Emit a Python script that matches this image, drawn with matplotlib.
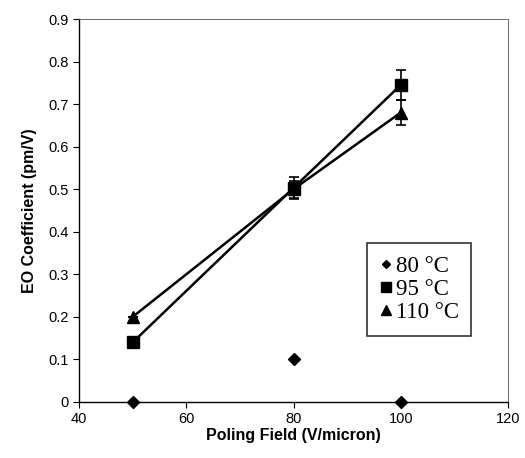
import matplotlib.pyplot as plt
import numpy as np
from matplotlib.lines import Line2D

field = [50, 80, 100]
eo_80 = [0.0, 0.10, 0.0]
eo_95 = [0.14, 0.503, 0.745]
eo_110 = [0.20, 0.50, 0.68]
err_95 = [0.0, 0.025, 0.035]
err_110 = [0.0, 0.02, 0.03]
labels = ['80 °C', '95 °C', '110 °C']

fig = plt.figure(figsize=(5.25, 4.58), dpi=100)
ax = fig.add_axes([0.1505, 0.1223, 0.8171, 0.8362])

ax.plot(field, eo_80, 'kD', ms=6, ls='none', clip_on=False, zorder=5)
ax.errorbar(field, eo_95, yerr=err_95, fmt='s-', color='k', ms=8, lw=1.8,
            capsize=3.5, elinewidth=1.2, capthick=1.2, zorder=4)
ax.errorbar(field, eo_110, yerr=err_110, fmt='^-', color='k', ms=8, lw=1.8,
            capsize=3.5, elinewidth=1.2, capthick=1.2, zorder=4)

ax.set_xlim(40, 120)
ax.set_ylim(0, 0.9)
ax.set_xticks(np.arange(40, 121, 20))
ax.set_yticks(np.arange(0, 0.91, 0.1))
ax.set_yticklabels(['0'] + ['%.1f' % v for v in np.arange(0.1, 0.91, 0.1)])
ax.tick_params(direction='out', length=4, width=0.8, labelsize=10.5,
               colors='black')
for lab in ax.get_xticklabels() + ax.get_yticklabels():
    lab.set_fontfamily('Liberation Sans')

for side in ['left', 'bottom']:
    ax.spines[side].set_linewidth(1.0)
for side in ['top', 'right']:
    ax.spines[side].set_linewidth(0.6)
    ax.spines[side].set_color('#555555')
    ax.spines[side].set_linestyle((0, (6, 1)))

ax.set_xlabel('Poling Field (V/micron)', fontfamily='Liberation Sans',
              fontweight='bold', fontsize=11.5, labelpad=1)
ax.set_ylabel('EO Coefficient (pm/V)', fontfamily='Liberation Sans',
              fontweight='bold', fontsize=11.5, labelpad=8)

# legend in Times-like font, markers only
handles = [Line2D([], [], marker=m, color='k', ls='none', ms=s)
           for m, s in zip(['D', 's', '^'], [4.5, 7, 7])]
leg = fig.legend(handles, labels, loc='upper left',
                 bbox_to_anchor=(367 / 525, 1 - 243 / 458),
                 prop={'family': 'Liberation Serif', 'size': 16.5},
                 frameon=True, fancybox=False, edgecolor='black',
                 handlelength=0.6, handletextpad=0.1, labelspacing=0.1,
                 borderpad=0.55, borderaxespad=0)
leg.get_frame().set_linewidth(1.2)

fig.savefig('out.png', dpi=100)
